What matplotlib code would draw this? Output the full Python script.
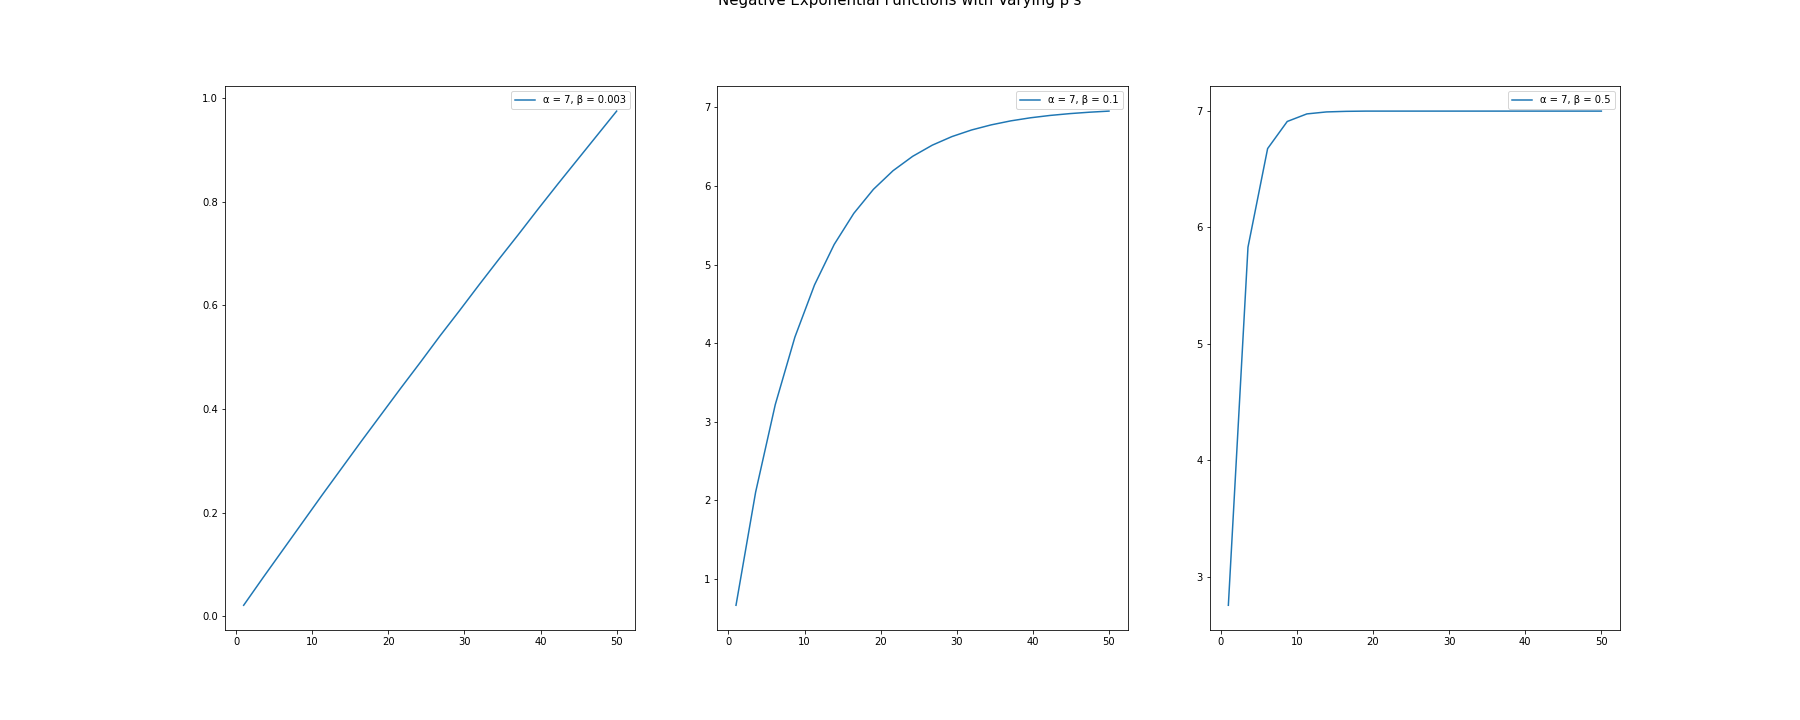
import matplotlib.pyplot as plt

# x positions of the sampled points (20 points from 1 to 50)
x_vals = [1.0, 3.579, 6.158, 8.737, 11.316, 13.895, 16.474, 19.053, 21.632, 24.211,
          26.789, 29.368, 31.947, 34.526, 37.105, 39.684, 42.263, 44.842, 47.421, 50.0]

y_beta_0003 = [0.021, 0.075, 0.128, 0.181, 0.234, 0.286, 0.338, 0.389, 0.440, 0.490,
               0.541, 0.590, 0.640, 0.689, 0.737, 0.786, 0.834, 0.881, 0.928, 0.975]

y_beta_01 = [0.666, 2.106, 3.219, 4.078, 4.742, 5.256, 5.652, 5.958, 6.195, 6.378,
             6.520, 6.629, 6.713, 6.778, 6.829, 6.868, 6.898, 6.921, 6.939, 6.953]

y_beta_05 = [2.754, 5.831, 6.678, 6.911, 6.976, 6.993, 6.998, 7.000, 7.000, 7.000,
             7.000, 7.000, 7.000, 7.000, 7.000, 7.000, 7.000, 7.000, 7.000, 7.000]

labels = ["α = 7, β = 0.003", "α = 7, β = 0.1", "α = 7, β = 0.5"]
series = [y_beta_0003, y_beta_01, y_beta_05]

# 25x10 in at 72 dpi -> 1800x720
fig, axes = plt.subplots(1, 3, figsize=(25, 10), dpi=72)
fig.subplots_adjust(left=0.125, right=0.9, bottom=0.125, top=0.88, wspace=0.2)

for ax, ys, lab in zip(axes, series, labels):
    ax.plot(x_vals, ys, label=lab)
    ax.legend(loc='upper right')

fig.suptitle("Negative Exponential Functions with Varying β's", fontsize=15, y=1.0, va='center')

plt.savefig("out.png", dpi=72)
